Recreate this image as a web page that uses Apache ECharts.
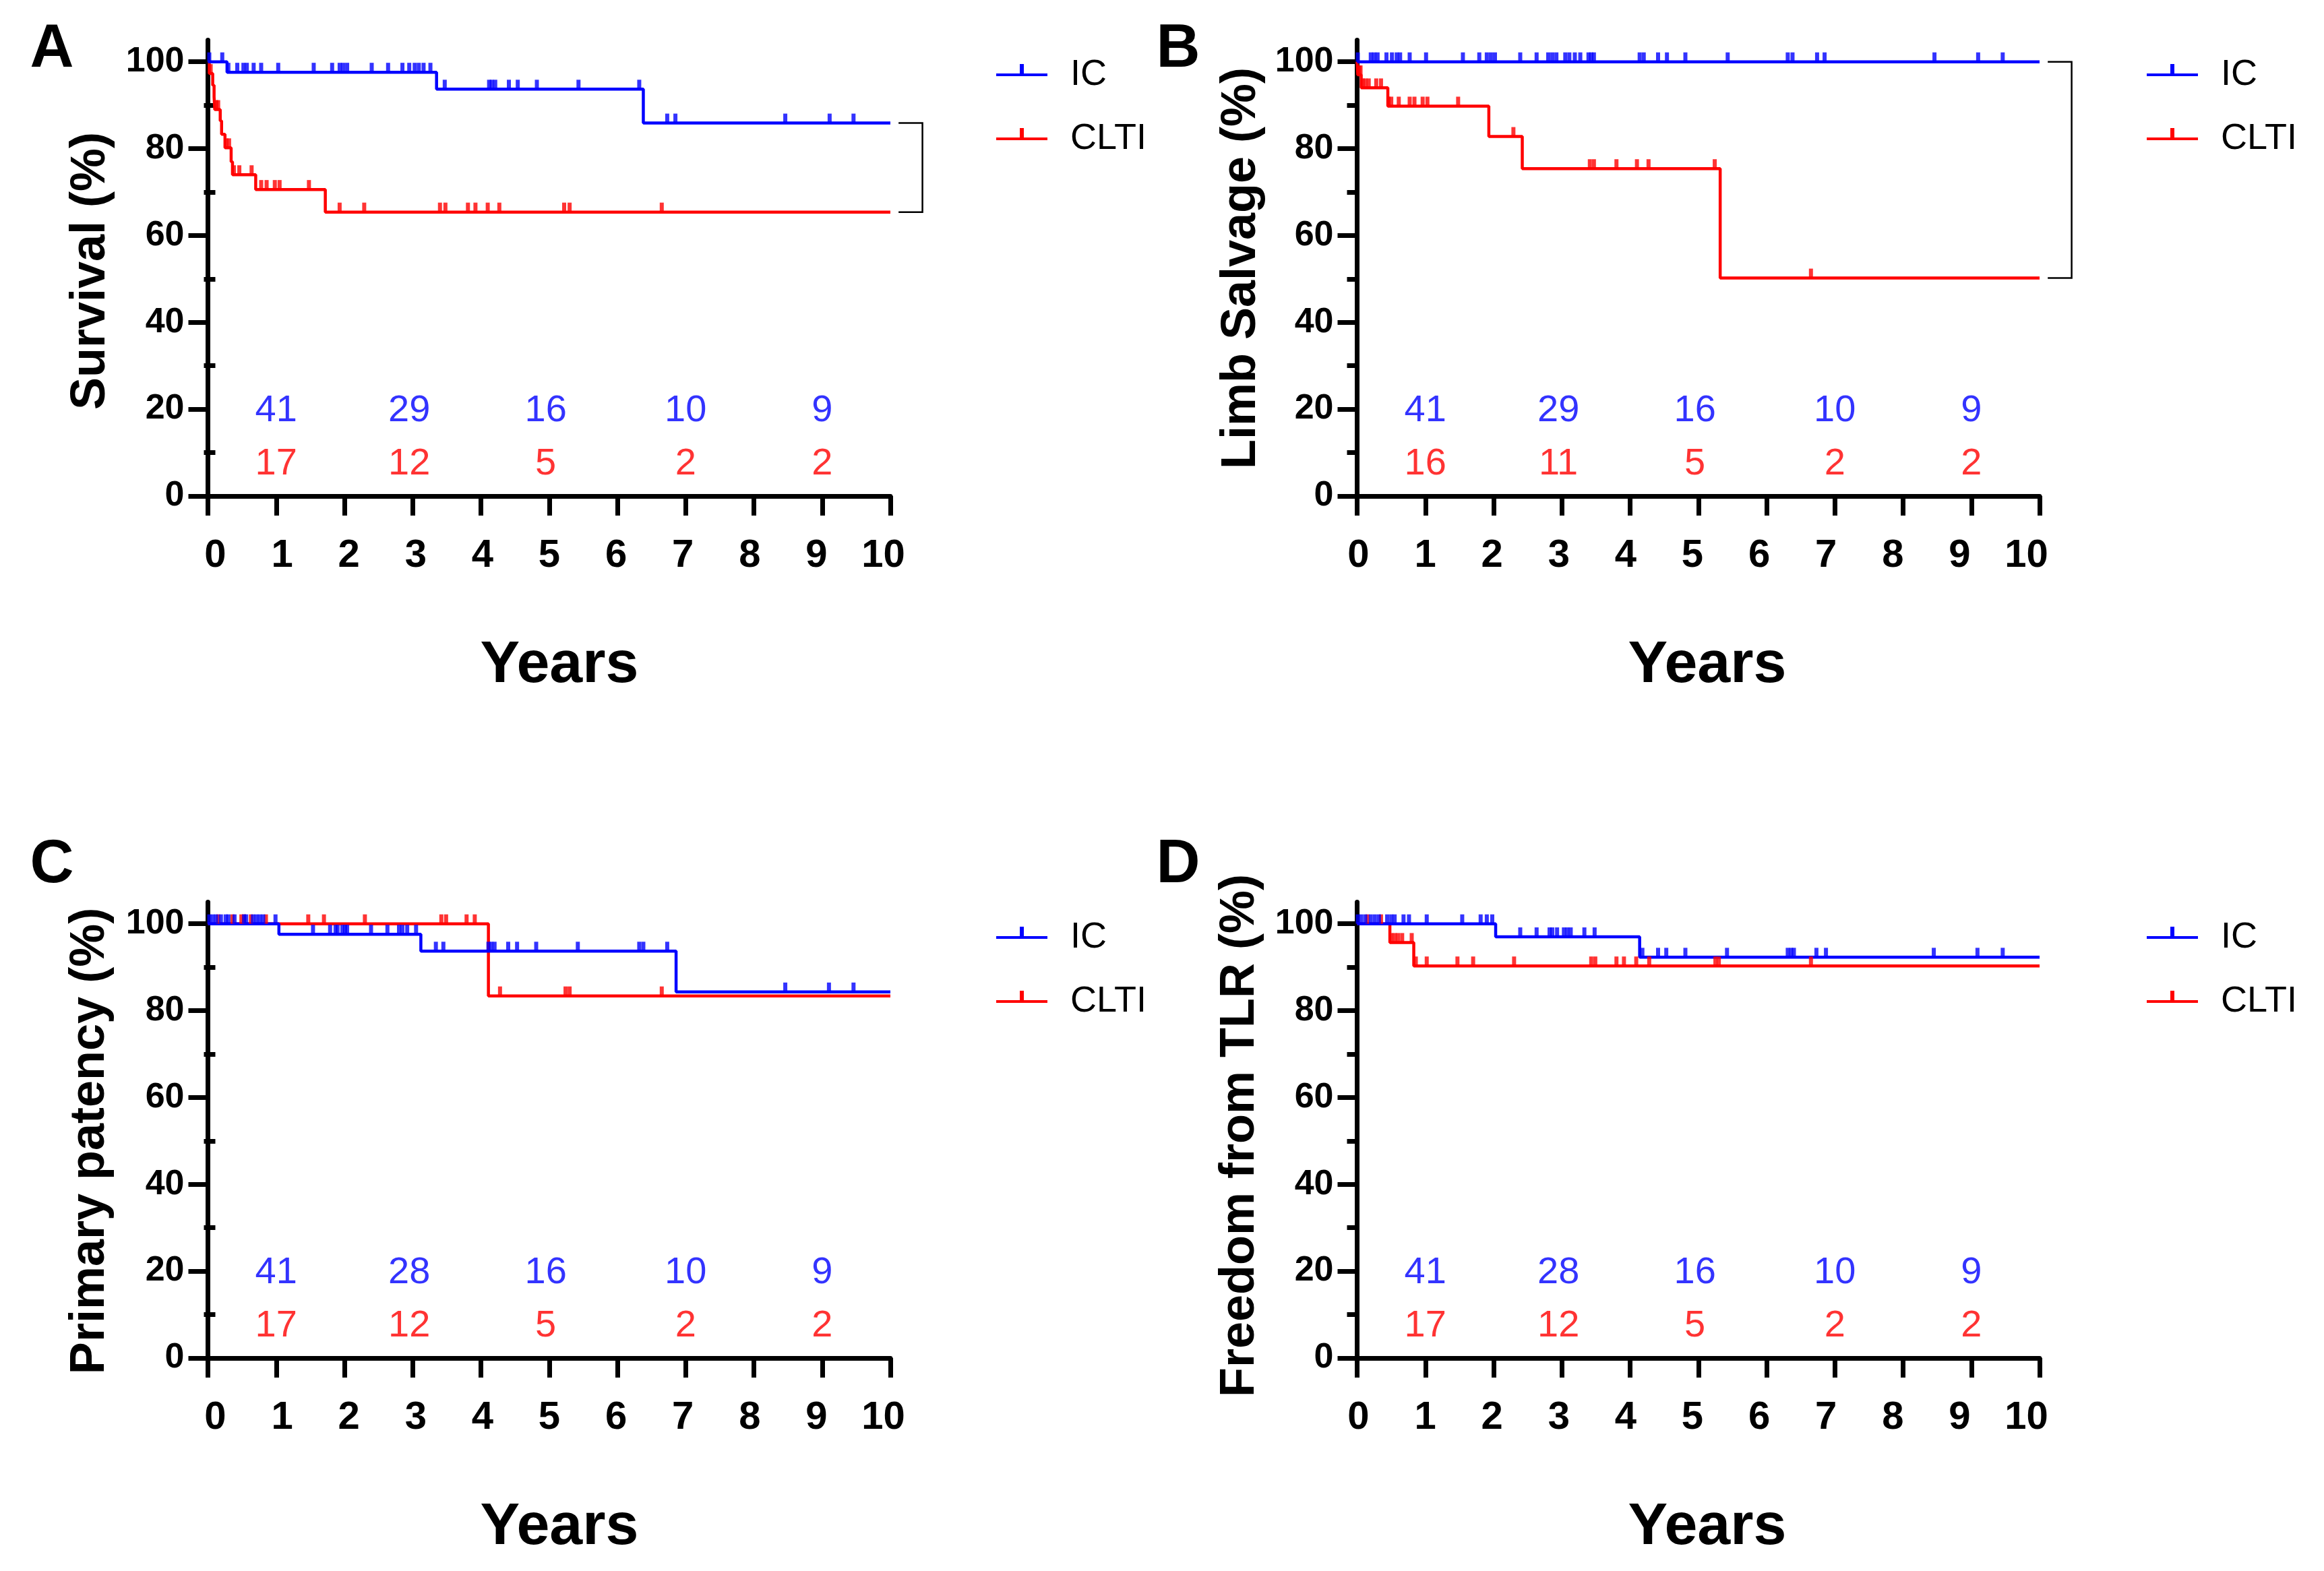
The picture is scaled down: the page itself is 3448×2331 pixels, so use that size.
<!DOCTYPE html>
<html><head><meta charset="utf-8">
<script src="https://cdn.jsdelivr.net/npm/echarts@6/dist/echarts.min.js"></script>
<style>html,body{margin:0;padding:0;background:#fff}#c{width:3448px;height:2331px}</style>
</head><body><div id="c"></div>
<script>
// ---------------- DATA ----------------
const xTicks = [0,1,2,3,4,5,6,7,8,9,10];
const yMajorTicks = [0,20,40,60,80,100];
const yMinorTicks = [10,30,50,70,90];
const riskTimes = [1, 2.95, 4.95, 7, 9];
const groupNames = ['IC', 'CLTI'];
const panelLetters = ['A', 'B', 'C', 'D'];
const yTitles = ['Survival (%)', 'Limb Salvage (%)', 'Primary patency (%)', 'Freedom from TLR (%)'];
const xTitle = 'Years';

// Kaplan-Meier steps: [time (years), survival % after that time]
const icA_steps   = [[0,100],[0.28,97.6],[3.35,93.7],[6.38,85.9],[10,85.9]];
const cltiA_steps = [[0,100],[0.02,97.3],[0.07,94.6],[0.09,91.9],[0.1,89.0],[0.18,86.4],[0.2,83.3],[0.25,80.2],[0.34,77.0],[0.36,74.0],[0.7,70.6],[1.72,65.4],[10,65.4]];
const icB_steps   = [[0,100],[10,100]];
const cltiB_steps = [[0,100],[0.01,97.0],[0.06,94.0],[0.45,89.8],[1.93,82.8],[2.42,75.4],[5.32,50.2],[10,50.2]];
const icC_steps   = [[0,100],[1.04,97.6],[3.12,93.7],[6.86,84.3],[10,84.3]];
const cltiC_steps = [[0,100],[4.11,83.4],[10,83.4]];
const icD_steps   = [[0,100],[2.03,97.0],[4.14,92.3],[10,92.3]];
const cltiD_steps = [[0,100],[0.48,95.7],[0.83,90.3],[10,90.3]];

// censoring times (years)
const icA_cens   = [0.02,0.21,0.3,0.43,0.52,0.57,0.67,0.78,1.03,1.55,1.82,1.93,1.98,2.04,2.40,2.64,2.85,2.95,3.03,3.09,3.16,3.26,3.47,4.12,4.16,4.21,4.41,4.54,4.82,5.43,6.32,6.73,6.85,8.46,9.11,9.46];
const cltiA_cens = [0.04,0.12,0.15,0.27,0.31,0.38,0.46,0.64,0.78,0.86,0.98,1.05,1.48,1.93,2.29,3.40,3.48,3.81,3.92,4.10,4.27,5.22,5.30,6.65];
const icB_cens   = [0.01,0.2,0.25,0.3,0.43,0.51,0.58,0.63,0.77,1.01,1.55,1.79,1.9,1.96,2.02,2.39,2.63,2.8,2.86,2.92,3.05,3.11,3.19,3.27,3.39,3.43,3.47,4.14,4.2,4.41,4.54,4.81,5.43,6.31,6.38,6.74,6.85,8.46,9.1,9.46];
const cltiB_cens = [0.03,0.05,0.08,0.12,0.17,0.28,0.35,0.46,0.5,0.61,0.77,0.84,0.96,1.03,1.48,2.29,3.41,3.47,3.8,4.1,4.27,5.24,6.65];
const icC_cens   = [0.02,0.07,0.12,0.19,0.26,0.3,0.39,0.53,0.56,0.66,0.71,0.76,0.81,0.99,1.54,1.79,1.87,1.9,1.97,2.01,2.04,2.39,2.63,2.8,2.85,2.92,3.05,3.34,3.45,4.11,4.15,4.2,4.4,4.53,4.81,5.42,6.32,6.38,6.73,8.46,9.1,9.46];
const cltiC_cens = [0.15,0.36,0.49,0.53,0.63,0.85,1.47,1.7,2.3,3.42,3.49,3.79,3.91,4.28,5.24,5.3,6.65];
const icD_cens   = [0.01,0.06,0.12,0.2,0.26,0.32,0.44,0.5,0.55,0.68,0.76,1.02,1.54,1.81,1.9,1.98,2.39,2.63,2.82,2.86,2.93,3.03,3.08,3.13,3.33,3.48,4.18,4.41,4.53,4.81,5.42,6.31,6.36,6.4,6.73,6.87,8.45,9.09,9.46];
const cltiD_cens = [0.15,0.35,0.5,0.55,0.6,0.66,0.8,0.86,1.02,1.47,1.7,2.3,3.43,3.49,3.8,3.91,4.09,4.28,5.25,5.3,6.65];

// numbers at risk
const icA_risk = [41,29,16,10,9],   cltiA_risk = [17,12,5,2,2];
const icB_risk = [41,29,16,10,9],   cltiB_risk = [16,11,5,2,2];
const icC_risk = [41,28,16,10,9],   cltiC_risk = [17,12,5,2,2];
const icD_risk = [41,28,16,10,9],   cltiD_risk = [17,12,5,2,2];

// ---------------- LAYOUT / STYLE ----------------
const FONT = "'Liberation Sans', Arial, Helvetica, sans-serif";
const BLUE = '#0000FF', RED = '#FF0000';
const GRID_W = 1012.5, GRID_H = 676.5;
const layout = [
  {left: 308.5,  top: 59.5,   lab: [-0.111, 10.106], letter: [77, 74],     ytitle: [135, 402],   xtitle: [830, 988],   legend: [1473, 79],   bracket: true},
  {left: 2013.5, top: 59.5,   lab: [-0.02, 10.197],  letter: [1748, 74],   ytitle: [1842, 398],  xtitle: [2533, 988],  legend: [3180, 79],   bracket: true},
  {left: 308.5,  top: 1338.5, lab: [-0.111, 10.106], letter: [77, 1284],   ytitle: [134, 1693],  xtitle: [830, 2267],  legend: [1473, 1359], bracket: false},
  {left: 2013.5, top: 1338.5, lab: [-0.02, 10.197],  letter: [1748, 1284], ytitle: [1840, 1685], xtitle: [2533, 2267], legend: [3180, 1359], bracket: false}
];
const RISK_Y_IC = 19.6, RISK_Y_CLTI = 7.3;
const BRACKET_X0 = 10.12, BRACKET_X1 = 10.47;

const panels = [
  {ic: icA_steps, clti: cltiA_steps, icC: icA_cens, cltiC: cltiA_cens, icR: icA_risk, cltiR: cltiA_risk},
  {ic: icB_steps, clti: cltiB_steps, icC: icB_cens, cltiC: cltiB_cens, icR: icB_risk, cltiR: cltiB_risk},
  {ic: icC_steps, clti: cltiC_steps, icC: icC_cens, cltiC: cltiC_cens, icR: icC_risk, cltiR: cltiC_risk},
  {ic: icD_steps, clti: cltiD_steps, icC: icD_cens, cltiC: cltiD_cens, icR: icD_risk, cltiR: cltiD_risk}
];

function survAt(steps, t) {
  let s = steps[0][1];
  for (const [tt, v] of steps) { if (tt <= t) s = v; }
  return s;
}

const grid = [], xAxis = [], yAxis = [], series = [], legend = [], graphic = [];
const legendIcon = 'path://M0,14 L76,14 L76,18 L0,18 Z M35,0 L41,0 L41,14 L35,14 Z M0,32 L0.01,32';

panels.forEach((p, i) => {
  const L = layout[i];
  grid.push({left: L.left, top: L.top, width: GRID_W, height: GRID_H});
  xAxis.push({
    gridIndex: i, type: 'value', min: 0, max: 10, interval: 1, position: 'bottom',
    axisLine: {show: true, lineStyle: {color: '#000', width: 7}},
    axisTick: {show: true, length: 29, lineStyle: {color: '#000', width: 7}},
    axisLabel: {show: false}, splitLine: {show: false}
  });
  xAxis.push({
    gridIndex: i, type: 'value', min: L.lab[0], max: L.lab[1], position: 'bottom',
    axisLine: {show: false}, axisTick: {show: false}, splitLine: {show: false},
    axisLabel: {show: true, customValues: xTicks, margin: 60, fontSize: 58, fontWeight: 'bold', color: '#000', fontFamily: FONT}
  });
  yAxis.push({
    gridIndex: i, type: 'value', min: 0, max: 105, position: 'left',
    axisLine: {show: true, lineStyle: {color: '#000', width: 7}},
    axisTick: {show: true, length: 29, customValues: yMajorTicks, lineStyle: {color: '#000', width: 7}},
    axisLabel: {show: true, customValues: yMajorTicks, margin: 35, fontSize: 52, fontWeight: 'bold', color: '#000', fontFamily: FONT},
    splitLine: {show: false}
  });
  yAxis.push({
    gridIndex: i, type: 'value', min: 0, max: 105, position: 'left',
    axisLine: {show: false},
    axisTick: {show: true, length: 17, customValues: yMinorTicks, lineStyle: {color: '#000', width: 7}},
    axisLabel: {show: false}, splitLine: {show: false}
  });
  const xi = 2 * i, yi = 2 * i;
  const base = {xAxisIndex: xi, yAxisIndex: yi, silent: true, animation: false};
  series.push(Object.assign({}, base, {
    name: 'CLTI', type: 'line', step: 'end', symbol: 'none', color: RED, z: 2,
    lineStyle: {color: RED, width: 4.5}, data: p.clti
  }));
  series.push(Object.assign({}, base, {
    name: 'IC', type: 'line', step: 'end', symbol: 'none', color: BLUE, z: 3,
    lineStyle: {color: BLUE, width: 4.5}, data: p.ic
  }));
  series.push(Object.assign({}, base, {
    name: 'CLTI censored', type: 'scatter', symbol: 'rect', symbolSize: [6, 14], symbolOffset: [0, -7],
    itemStyle: {color: RED}, z: 4, data: p.cltiC.map(t => [t, survAt(p.clti, t)])
  }));
  series.push(Object.assign({}, base, {
    name: 'IC censored', type: 'scatter', symbol: 'rect', symbolSize: [6, 14], symbolOffset: [0, -7],
    itemStyle: {color: BLUE}, z: 5, data: p.icC.map(t => [t, survAt(p.ic, t)])
  }));
  const riskLabel = c => ({show: true, position: 'inside', formatter: q => String(q.value[2]), fontSize: 56, color: c, fontFamily: FONT});
  series.push(Object.assign({}, base, {
    name: 'IC at risk', type: 'scatter', symbolSize: 1, itemStyle: {color: 'rgba(0,0,0,0)'}, z: 6,
    label: riskLabel(BLUE), data: p.icR.map((n, k) => [riskTimes[k], RISK_Y_IC, n])
  }));
  series.push(Object.assign({}, base, {
    name: 'CLTI at risk', type: 'scatter', symbolSize: 1, itemStyle: {color: 'rgba(0,0,0,0)'}, z: 6,
    label: riskLabel(RED), data: p.cltiR.map((n, k) => [riskTimes[k], RISK_Y_CLTI, n])
  }));
  legend.push({
    left: L.legend[0], top: L.legend[1], orient: 'vertical', itemWidth: 76, itemHeight: 32, itemGap: 41,
    selectedMode: false,
    data: [{name: 'IC', icon: legendIcon}, {name: 'CLTI', icon: legendIcon}],
    textStyle: {fontSize: 54, color: '#000', fontFamily: FONT, lineHeight: 54, padding: [0, 0, 0, 29]}
  });
  graphic.push({type: 'text', x: L.letter[0], y: L.letter[1], style: {text: panelLetters[i], font: `bold 90px ${FONT}`, fill: '#000', align: 'center', verticalAlign: 'middle'}});
  graphic.push({type: 'text', x: L.ytitle[0], y: L.ytitle[1], rotation: Math.PI / 2, style: {text: yTitles[i], font: `bold 72px ${FONT}`, fill: '#000', align: 'center', verticalAlign: 'middle'}});
  graphic.push({type: 'text', x: L.xtitle[0], y: L.xtitle[1], style: {text: xTitle, font: `bold 88px ${FONT}`, fill: '#000', align: 'center', verticalAlign: 'middle'}});
});

const chart = echarts.init(document.getElementById('c'), null, {renderer: 'canvas', width: 3448, height: 2331});
chart.setOption({
  backgroundColor: '#fff', animation: false,
  grid, xAxis, yAxis, series, legend, graphic
});

// comparison brackets (panels A, B): placed through the chart's own scales
const brackets = [];
panels.forEach((p, i) => {
  if (!layout[i].bracket) return;
  const top = p.ic[p.ic.length - 1][1], bot = p.clti[p.clti.length - 1][1];
  const pts = [[BRACKET_X0, top], [BRACKET_X1, top], [BRACKET_X1, bot], [BRACKET_X0, bot]]
    .map(d => chart.convertToPixel({xAxisIndex: 2 * i, yAxisIndex: 2 * i}, d));
  brackets.push({type: 'polyline', silent: true, z: 10, shape: {points: pts}, style: {stroke: '#000', lineWidth: 2.5, fill: null}});
});
chart.setOption({graphic: graphic.concat(brackets)});
</script></body></html>
